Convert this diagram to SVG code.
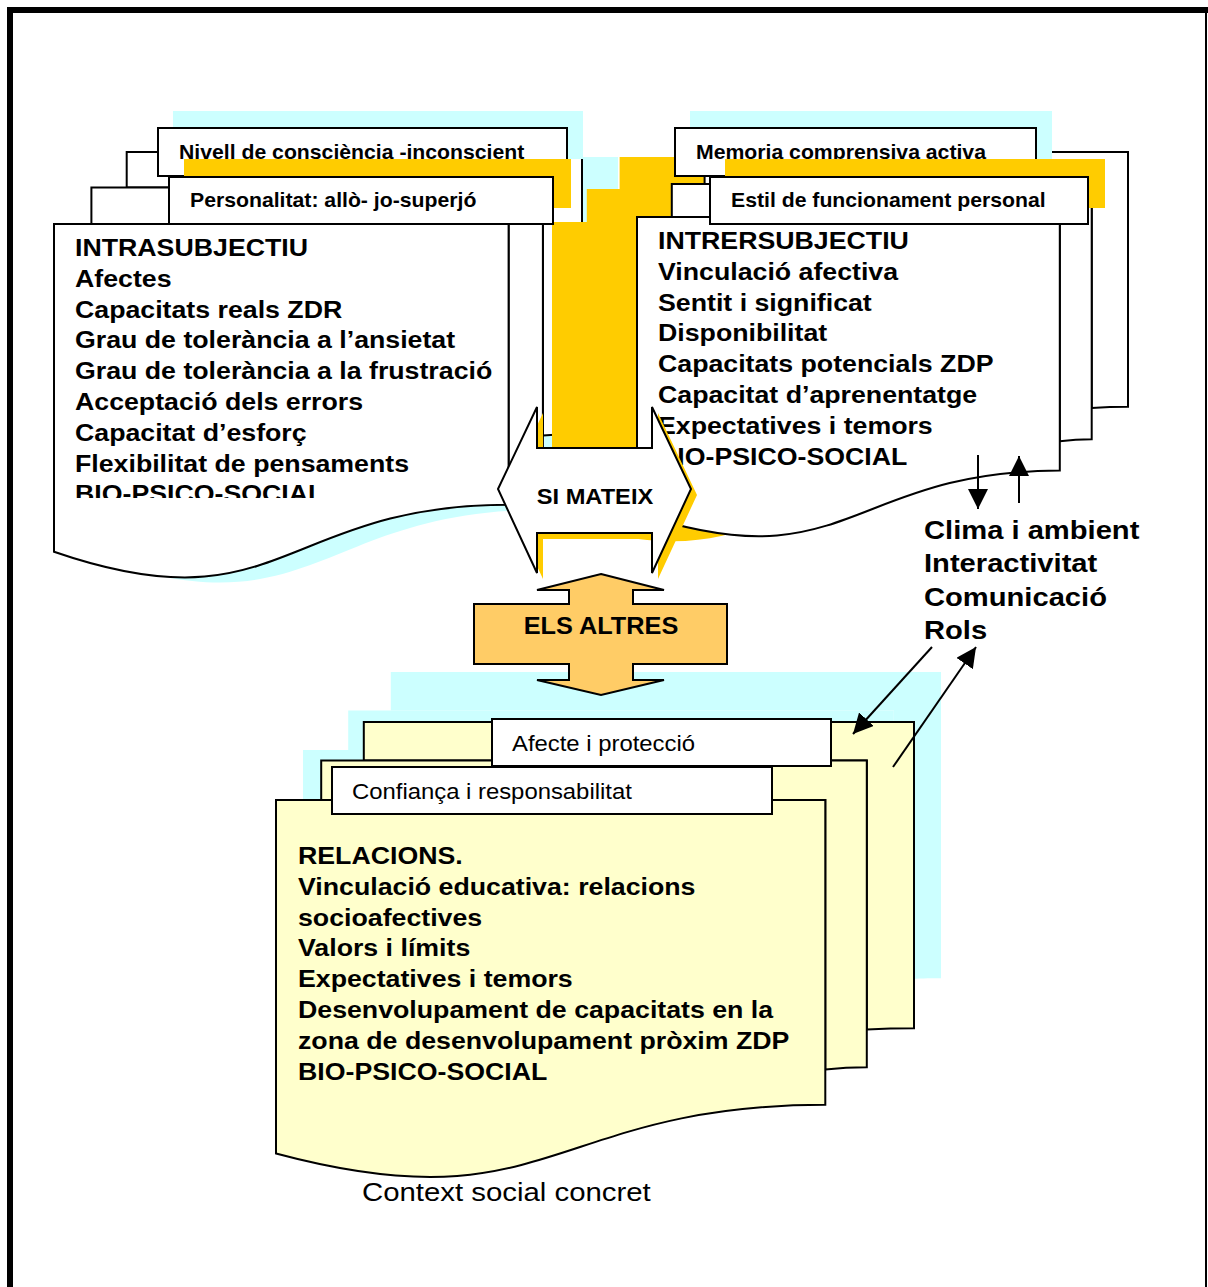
<svg xmlns="http://www.w3.org/2000/svg" width="1208" height="1287" viewBox="0 0 1208 1287">
<defs>
<style>
.b{font-family:"Liberation Sans",Arial,sans-serif;font-weight:bold;fill:#000}
.r{font-family:"Liberation Sans",Arial,sans-serif;fill:#000}
.box{fill:#fff;stroke:#000;stroke-width:2}
.cy{fill:#CCFFFF}
.yl{fill:#FFCC00}
.ln{stroke:#000;stroke-width:2;fill:none}
</style>
<marker id="ah" viewBox="0 0 20 20" refX="20" refY="10" markerWidth="20" markerHeight="20" markerUnits="userSpaceOnUse" orient="auto"><path d="M0,0 L20,10 L0,20 Z" fill="#000"/></marker>
<g id="mdL">
<path d="M126.7,187.5 L126.7,152 L582,152 L582,434.1 C562.5,434.1 542.9,435.4 542.9,435.4 L542.9,187.5 Z"/>
<path d="M91.4,223.9 L91.4,187.5 L542.9,187.5 L542.9,470.1 C525.8,470.1 508.6,472.2 508.6,472.2 L508.6,223.9 Z"/>
<path d="M54,551.7 C281,630 281,504.8 508.6,504.8 L508.6,223.9 L54,223.9 Z"/>
</g>
<g id="mdR">
<path d="M704.6,184.1 L704.6,152 L1128,152 L1128,406.8 C1109.8,406.8 1091.7,408 1091.7,408 L1091.7,184.1 Z"/>
<path d="M671.8,216.9 L671.8,184.1 L1091.7,184.1 L1091.7,439.3 C1075.7,439.3 1059.8,441.2 1059.8,441.2 L1059.8,216.9 Z"/>
<path d="M637,513 C848.1,583.7 848.1,470.6 1059.8,470.6 L1059.8,216.9 L637,216.9 Z"/>
</g>
<g id="mdB">
<path d="M363.8,760.6 L363.8,722 L914,722 L914,1028.2 C890.4,1028.2 866.8,1029.5 866.8,1029.5 L866.8,760.6 Z"/>
<path d="M321.2,800 L321.2,760.6 L866.8,760.6 L866.8,1067.2 C846,1067.2 825.3,1069.5 825.3,1069.5 L825.3,800 Z"/>
<path d="M276,1153.5 C550.3,1226.9 550.3,1104.8 825.3,1104.8 L825.3,800 L276,800 Z"/>
</g>
<clipPath id="clipL" clipPathUnits="userSpaceOnUse"><rect x="-20" y="470" width="600" height="28"/></clipPath>
<clipPath id="clipR" clipPathUnits="userSpaceOnUse"><rect x="-20" y="440" width="600" height="26"/></clipPath>
</defs>
<rect width="1208" height="1287" fill="#fff"/>
<g id="frame">
<rect x="7" y="7" width="1201" height="6" fill="#000"/>
<rect x="7" y="7" width="6" height="1280" fill="#000"/>
<rect x="1205" y="7" width="2" height="1280" fill="#000"/>
</g>

<g id="intrasubjectiu">
<use href="#mdL" fill="#CCFFFF" transform="translate(36,5)"/>
<use href="#mdL" fill="#fff" stroke="#000" stroke-width="2"/>
<g transform="translate(75,0) scale(1.1,1)">
<text class="b" font-size="24.3">
<tspan x="0" y="256">INTRASUBJECTIU</tspan>
<tspan x="0" y="286.8">Afectes</tspan>
<tspan x="0" y="317.6">Capacitats reals ZDR</tspan>
<tspan x="0" y="348.4">Grau de tolerància a l’ansietat</tspan>
<tspan x="0" y="379.2">Grau de tolerància a la frustració</tspan>
<tspan x="0" y="410">Acceptació dels errors</tspan>
<tspan x="0" y="440.8">Capacitat d’esforç</tspan>
<tspan x="0" y="471.6">Flexibilitat de pensaments</tspan>
</text>
<text class="b" font-size="24.3" x="0" y="502.4" clip-path="url(#clipL)">BIO-PSICO-SOCIAL</text>
</g>
</g>

<g id="intersubjectiu">
<use href="#mdR" fill="#FFCC00" transform="translate(-85,5)"/>
<use href="#mdR" fill="#fff" stroke="#000" stroke-width="2"/>
<g transform="translate(658,0) scale(1.1,1)">
<text class="b" font-size="24.3">
<tspan x="0" y="249">INTRERSUBJECTIU</tspan>
<tspan x="0" y="279.8">Vinculació afectiva</tspan>
<tspan x="0" y="310.6">Sentit i significat</tspan>
<tspan x="0" y="341.4">Disponibilitat</tspan>
<tspan x="0" y="372.2">Capacitats potencials ZDP</tspan>
<tspan x="0" y="403">Capacitat d’aprenentatge</tspan>
<tspan x="0" y="433.8">Expectatives i temors</tspan>
</text>
<text class="b" font-size="24.3" x="0" y="464.6" clip-path="url(#clipR)">BIO-PSICO-SOCIAL</text>
</g>
</g>

<g id="tab-nivell">
<rect class="cy" x="173" y="111" width="410" height="48"/>
<rect class="box" x="158" y="128" width="409" height="48"/>
<text class="b" font-size="19.3" transform="translate(179,159) scale(1.1,1)">Nivell de consciència -inconscient</text>
</g>
<g id="tab-personalitat">
<rect class="yl" x="184" y="159" width="387" height="49"/>
<rect class="box" x="169" y="177" width="384" height="47"/>
<text class="b" font-size="19.3" transform="translate(190,207) scale(1.1,1)">Personalitat: allò- jo-superjó</text>
</g>
<g id="tab-memoria">
<rect class="cy" x="690" y="111" width="362" height="48"/>
<rect class="box" x="675" y="128" width="361" height="48"/>
<text class="b" font-size="19.3" transform="translate(696,159) scale(1.1,1)">Memoria comprensiva activa</text>
</g>
<g id="tab-estil">
<rect class="yl" x="725" y="159" width="380" height="49"/>
<rect class="box" x="710" y="177" width="378" height="47"/>
<text class="b" font-size="19.3" transform="translate(731,207) scale(1.1,1)">Estil de funcionament personal</text>
</g>

<g id="si-mateix">
<path class="yl" transform="translate(6,6)" d="M498,489 L537,407 L537,448 L652,448 L652,407 L691,489 L652,573 L652,533 L537,533 L537,573 Z"/>
<path fill="#fff" stroke="#000" stroke-width="2" stroke-linejoin="miter" d="M498,489 L537,407 L537,448 L652,448 L652,407 L691,489 L652,573 L652,533 L537,533 L537,573 Z"/>
<text class="b" font-size="21.5" text-anchor="middle" transform="translate(595,504) scale(1.1,1)">SI MATEIX</text>
</g>

<g id="relacions">
<use href="#mdB" fill="#CCFFFF" transform="translate(27,-50)"/>
<use href="#mdB" fill="#FFFFCC" stroke="#000" stroke-width="2"/>
<rect class="box" x="492" y="719" width="339" height="47"/>
<text class="r" font-size="21.7" transform="translate(512,751) scale(1.1,1)">Afecte i protecció</text>
<rect class="box" x="332" y="767" width="440" height="47"/>
<text class="r" font-size="21.7" transform="translate(352,799) scale(1.1,1)">Confiança i responsabilitat</text>
<g transform="translate(298,0) scale(1.1,1)">
<text class="b" font-size="24.3">
<tspan x="0" y="864">RELACIONS.</tspan>
<tspan x="0" y="894.8">Vinculació educativa: relacions</tspan>
<tspan x="0" y="925.6">socioafectives</tspan>
<tspan x="0" y="956.4">Valors i límits</tspan>
<tspan x="0" y="987.2">Expectatives i temors</tspan>
<tspan x="0" y="1018">Desenvolupament de capacitats en la</tspan>
<tspan x="0" y="1048.8">zona de desenvolupament pròxim ZDP</tspan>
<tspan x="0" y="1079.6">BIO-PSICO-SOCIAL</tspan>
</text>
</g>
<text class="r" font-size="26.7" transform="translate(362,1201) scale(1.1,1)">Context social concret</text>
</g>

<g id="els-altres">
<path fill="#FFCC66" stroke="#000" stroke-width="2" d="M601,574 L664,590 L633,590 L633,604 L727,604 L727,664 L633,664 L633,680 L664,680 L601,695 L537,680 L569,680 L569,664 L474,664 L474,604 L569,604 L569,590 L537,590 Z"/>
<text class="b" font-size="23" text-anchor="middle" transform="translate(601,634) scale(1.1,1)">ELS ALTRES</text>
</g>

<g id="interaccio">
<text class="b" font-size="26.5" transform="translate(924,0) scale(1.1,1)">
<tspan x="0" y="539">Clima i ambient</tspan>
<tspan x="0" y="572.5">Interactivitat</tspan>
<tspan x="0" y="606">Comunicació</tspan>
<tspan x="0" y="639.5">Rols</tspan>
</text>
</g>

<g id="connectors">
<line class="ln" x1="978" y1="455" x2="978" y2="509" marker-end="url(#ah)"/>
<line class="ln" x1="1019" y1="503" x2="1019" y2="456" marker-end="url(#ah)"/>
<line class="ln" x1="932" y1="647" x2="853" y2="734" marker-end="url(#ah)"/>
<line class="ln" x1="893" y1="767" x2="976" y2="647" marker-end="url(#ah)"/>
</g>
</svg>
